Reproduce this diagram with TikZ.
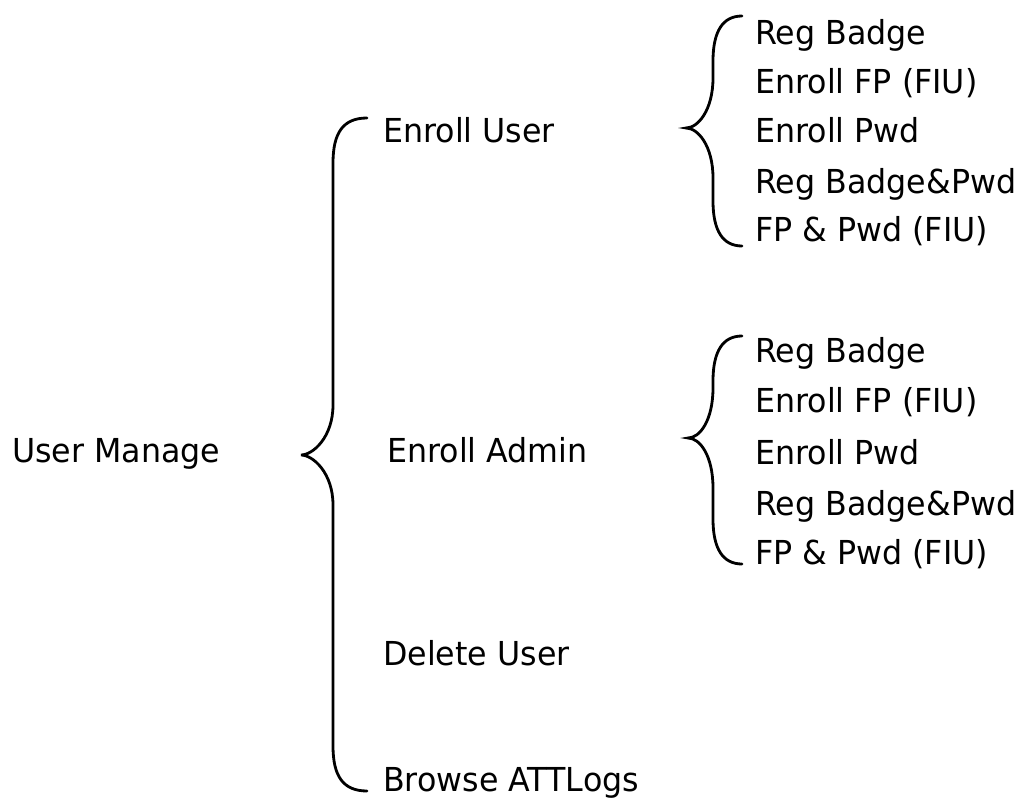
\documentclass[tikz,border=0pt]{standalone}
\usepackage{fontspec}
\setmainfont[FakeStretch=0.96]{DejaVu Sans}
\usetikzlibrary{positioning, calc}
\tikzset{
  item/.style={anchor=base west, inner sep=0pt, font=\fontsize{33}{36}\selectfont},
  brace/.style={draw=black, line width=2.8pt, line cap=round},
}
% left curly brace: tip x, line x, end x, top y, tip y, bottom y
\newcommand{\leftcurly}[6]{%
  \draw[brace] (#3,#4) .. controls (#2+10,#4) and (#2,#4+15) .. (#2,#4+45)
    -- (#2,#5-50) .. controls (#2,#5-18) and (#1+12,#5) .. (#1,#5)
    .. controls (#1+12,#5) and (#2,#5+18) .. (#2,#5+50)
    -- (#2,#6-45) .. controls (#2,#6-15) and (#2+10,#6) .. (#3,#6);}

\begin{document}
\begin{tikzpicture}[x=1pt, y=-1pt]
    \useasboundingbox (0,0) rectangle (1021,803);
    % root
    \node[item] (manage) at (12,462) {User Manage};
    \leftcurly{301}{333}{367}{118}{455}{791}
    % second level
    \node[item] (enuser)  at (383,142) {Enroll User};
    \node[item] (enadmin) at (387,462) {Enroll Admin};
    \node[item] (deluser) at (383,665) {Delete User};
    \node[item] (browse)  at (383,791) {Browse ATTLogs};
    % enroll user
    \leftcurly{686}{713}{742}{16}{128}{246}
    \node[item] (ua) at (755,44)  {Reg Badge};
    \node[item] (ub) at (755,93)  {Enroll FP (FIU)};
    \node[item] (uc) at (755,142) {Enroll Pwd};
    \node[item] (ud) at (755,193) {Reg Badge\&Pwd};
    \node[item] (ue) at (755,241) {FP \& Pwd (FIU)};
    % enroll admin
    \leftcurly{688}{713}{742}{336}{438}{564}
    \node[item] (aa) at (755,362) {Reg Badge};
    \node[item] (ab) at (755,412) {Enroll FP (FIU)};
    \node[item] (ac) at (755,464) {Enroll Pwd};
    \node[item] (ad) at (755,515) {Reg Badge\&Pwd};
    \node[item] (ae) at (755,564) {FP \& Pwd (FIU)};
\end{tikzpicture}
\end{document}
